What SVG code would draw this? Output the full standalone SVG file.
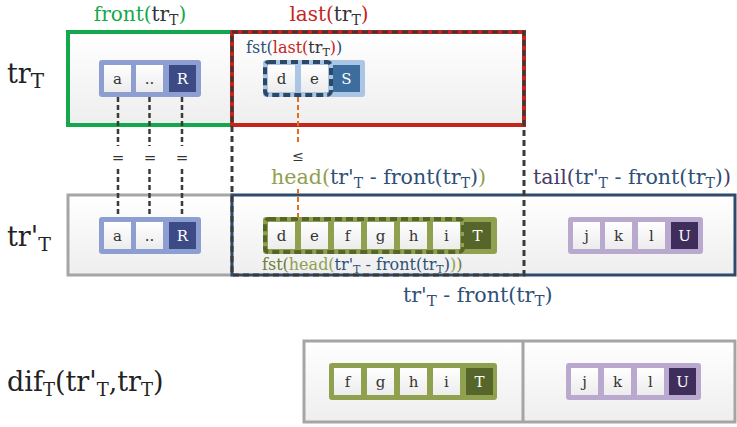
<svg xmlns="http://www.w3.org/2000/svg" width="737" height="427" viewBox="0 0 737 427" font-family="'DejaVu Serif', serif">
<defs>
<linearGradient id="boxg" x1="0" y1="0" x2="0" y2="1"><stop offset="0" stop-color="#ffffff"/><stop offset="1" stop-color="#eeeeee"/></linearGradient>
<linearGradient id="cellg" x1="0" y1="0" x2="0" y2="1"><stop offset="0" stop-color="#ffffff"/><stop offset="1" stop-color="#ececec"/></linearGradient>
</defs>
<style>
text{font-family:"DejaVu Serif",serif;}
.box{fill:url(#boxg);}
.cell{fill:url(#cellg);}
.ct{font-size:15px;fill:#333;text-anchor:middle;}
.cw{font-size:15px;fill:#fff;text-anchor:middle;}
.side{font-size:27px;fill:#222;}
.top{font-size:20px;text-anchor:middle;}
.mid{font-size:20.6px;}
.sm{font-size:16px;}
.dk{fill:#333;}
.bl{fill:#2e5078;}
.gr{fill:#12a84b;}
.rd{fill:#c4261d;}
.ol{fill:#8fa04e;}
.od{fill:#6c7d38;}
.pu{fill:#4a3a6a;}
.dash{fill:none;stroke:#3a3a3a;stroke-width:3;stroke-dasharray:6 4;}
.vd{stroke:#3a3a3a;stroke-width:2.5;stroke-dasharray:5 3;}
.od-line{stroke:#e0701e;stroke-width:2;stroke-dasharray:5 3;}
</style>

<!-- row labels -->
<text class="side" x="7" y="83" font-size="29">tr<tspan font-size="20" dy="5">T</tspan></text>
<text class="side" x="7" y="246">tr'<tspan font-size="19" dy="5">T</tspan></text>
<text class="side" x="7" y="391" font-size="25">dif<tspan font-size="18" dy="5">T</tspan><tspan dy="-5">(tr'</tspan><tspan font-size="18" dy="5">T</tspan><tspan dy="-5">,tr</tspan><tspan font-size="18" dy="5">T</tspan><tspan dy="-5">)</tspan></text>

<!-- top labels -->
<text class="top" x="140" y="21"><tspan class="gr">front(</tspan><tspan class="dk">tr</tspan><tspan class="dk" font-size="14" dy="4">T</tspan><tspan class="gr" dy="-4">)</tspan></text>
<text class="top" x="329" y="21"><tspan class="rd">last(</tspan><tspan class="dk">tr</tspan><tspan class="dk" font-size="14" dy="4">T</tspan><tspan class="rd" dy="-4">)</tspan></text>

<!-- row 1 -->
<g id="front-box">
<rect class="box" x="68" y="32" width="164" height="93" stroke="#12a84b" stroke-width="4"/>
</g>
<g id="last-box">
<rect class="box" x="232" y="32" width="292" height="93" stroke="#c4261d" stroke-width="4"/>
<text class="sm" x="246" y="53"><tspan class="bl">fst(</tspan><tspan class="rd">last(</tspan><tspan class="dk">tr</tspan><tspan class="dk" font-size="11" dy="3">T</tspan><tspan class="rd" dy="-3">)</tspan><tspan class="bl">)</tspan></text>
</g>

<!-- row 2 -->
<g id="row2-front-box">
<rect class="box" x="68" y="195" width="164" height="80" stroke="#a5a5a5" stroke-width="3"/>
</g>
<g id="row2-rest-box">
<rect class="box" x="232" y="195" width="503" height="80" stroke="#2d4b6d" stroke-width="3"/>
</g>

<!-- bottom -->
<g id="dif-box">
<rect class="box" x="304" y="341" width="431" height="81" stroke="#a5a5a5" stroke-width="3"/>
<line x1="523" y1="341" x2="523" y2="422" stroke="#a5a5a5" stroke-width="3"/>
</g>

<!-- dashed overlay column -->
<g id="overlap-column">
<rect class="dash" x="232" y="32" width="292" height="243"/>
</g>

<!-- row1 a..R -->
<g id="r1-aR">
<rect x="99" y="60" width="102" height="37" rx="3" fill="#8d9fd0"/>
<rect class="cell" x="104" y="65" width="27" height="27"/><text class="ct" x="117.5" y="84">a</text>
<rect class="cell" x="136" y="65" width="27" height="27"/><text class="ct" x="149.5" y="84">..</text>
<rect x="169" y="65" width="27" height="27" fill="#3c4a86"/><text class="cw" x="182.5" y="84">R</text>
</g>

<!-- row1 d e S -->
<g id="r1-deS">
<rect x="263" y="60" width="102" height="37" rx="3" fill="#aac6e4"/>
<rect class="cell" x="268" y="65" width="27" height="27"/><text class="ct" x="281.5" y="84">d</text>
<rect class="cell" x="301" y="65" width="27" height="27"/><text class="ct" x="314.5" y="84">e</text>
<rect x="333" y="65" width="27" height="27" fill="#3d6d9f"/><text class="cw" x="346.5" y="84">S</text>
<rect x="265" y="62" width="66" height="33" rx="4" fill="none" stroke="#2b4867" stroke-width="4" stroke-dasharray="7 4"/>
</g>

<!-- row2 a..R -->
<g id="r2-aR">
<rect x="99" y="217" width="102" height="37" rx="3" fill="#8d9fd0"/>
<rect class="cell" x="104" y="222" width="27" height="27"/><text class="ct" x="117.5" y="241">a</text>
<rect class="cell" x="136" y="222" width="27" height="27"/><text class="ct" x="149.5" y="241">..</text>
<rect x="169" y="222" width="27" height="27" fill="#3c4a86"/><text class="cw" x="182.5" y="241">R</text>
</g>

<!-- row2 green -->
<g id="r2-head">
<rect x="263" y="217" width="234" height="37" rx="3" fill="#8fa04e"/>
<rect class="cell" x="268" y="222" width="27" height="27"/><text class="ct" x="281.5" y="241">d</text>
<rect class="cell" x="301" y="222" width="27" height="27"/><text class="ct" x="314.5" y="241">e</text>
<rect class="cell" x="334" y="222" width="27" height="27"/><text class="ct" x="347.5" y="241">f</text>
<rect class="cell" x="367" y="222" width="27" height="27"/><text class="ct" x="380.5" y="241">g</text>
<rect class="cell" x="400" y="222" width="27" height="27"/><text class="ct" x="413.5" y="241">h</text>
<rect class="cell" x="433" y="222" width="27" height="27"/><text class="ct" x="446.5" y="241">i</text>
<rect x="464" y="222" width="27" height="27" fill="#56662a"/><text class="cw" x="477.5" y="241">T</text>
<rect x="265" y="219" width="198" height="33" rx="4" fill="none" stroke="#56662a" stroke-width="4" stroke-dasharray="7 4"/>
<text class="sm" x="262" y="270" font-size="16.5"><tspan class="od">fst(</tspan><tspan class="ol">head(</tspan><tspan class="bl">tr'</tspan><tspan class="bl" font-size="11" dy="3">T</tspan><tspan class="bl" dy="-3"> - front(tr</tspan><tspan class="bl" font-size="11" dy="3">T</tspan><tspan class="bl" dy="-3">)</tspan><tspan class="ol">)</tspan><tspan class="od">)</tspan></text>
</g>

<!-- row2 purple -->
<g id="r2-tail">
<rect x="568" y="217" width="135" height="37" rx="3" fill="#b9a9cf"/>
<rect class="cell" x="573" y="222" width="27" height="27"/><text class="ct" x="586.5" y="241">j</text>
<rect class="cell" x="605" y="222" width="27" height="27"/><text class="ct" x="618.5" y="241">k</text>
<rect class="cell" x="638" y="222" width="27" height="27"/><text class="ct" x="651.5" y="241">l</text>
<rect x="671" y="222" width="27" height="27" fill="#3f2d5c"/><text class="cw" x="684.5" y="241">U</text>
</g>

<!-- bottom green -->
<g id="dif-head">
<rect x="329" y="363" width="168" height="37" rx="3" fill="#8fa04e"/>
<rect class="cell" x="334" y="368" width="27" height="27"/><text class="ct" x="347.5" y="387">f</text>
<rect class="cell" x="367" y="368" width="27" height="27"/><text class="ct" x="380.5" y="387">g</text>
<rect class="cell" x="400" y="368" width="27" height="27"/><text class="ct" x="413.5" y="387">h</text>
<rect class="cell" x="433" y="368" width="27" height="27"/><text class="ct" x="446.5" y="387">i</text>
<rect x="466" y="368" width="27" height="27" fill="#56662a"/><text class="cw" x="479.5" y="387">T</text>
</g>

<!-- bottom purple -->
<g id="dif-tail">
<rect x="566" y="363" width="135" height="37" rx="3" fill="#b9a9cf"/>
<rect class="cell" x="571" y="368" width="27" height="27"/><text class="ct" x="584.5" y="387">j</text>
<rect class="cell" x="604" y="368" width="27" height="27"/><text class="ct" x="617.5" y="387">k</text>
<rect class="cell" x="637" y="368" width="27" height="27"/><text class="ct" x="650.5" y="387">l</text>
<rect x="669" y="368" width="27" height="27" fill="#3f2d5c"/><text class="cw" x="682.5" y="387">U</text>
</g>

<!-- connectors -->
<g id="connectors">
<line class="vd" x1="118" y1="97" x2="118" y2="146"/>
<line class="vd" x1="118" y1="169" x2="118" y2="217"/>
<line class="vd" x1="149.5" y1="97" x2="149.5" y2="146"/>
<line class="vd" x1="149.5" y1="169" x2="149.5" y2="217"/>
<line class="vd" x1="182" y1="97" x2="182" y2="146"/>
<line class="vd" x1="182" y1="169" x2="182" y2="217"/>
<line class="od-line" x1="298" y1="97" x2="298" y2="143"/>
<line class="od-line" x1="298" y1="189" x2="298" y2="219"/>
</g>

<!-- relation labels -->
<g id="relations" fill="#333">
<text x="118" y="163" text-anchor="middle" font-size="15">=</text>
<text x="150" y="163" text-anchor="middle" font-size="15">=</text>
<text x="182" y="163" text-anchor="middle" font-size="15">=</text>
<text x="298" y="161" text-anchor="middle" font-size="14">≤</text>
</g>

<text class="mid" x="271" y="184"><tspan class="ol">head(</tspan><tspan class="bl">tr'</tspan><tspan class="bl" font-size="14" dy="4">T</tspan><tspan class="bl" dy="-4"> - front(tr</tspan><tspan class="bl" font-size="14" dy="4">T</tspan><tspan class="bl" dy="-4">)</tspan><tspan class="ol">)</tspan></text>
<text class="mid" x="533" y="184"><tspan class="pu">tail(</tspan><tspan class="bl">tr'</tspan><tspan class="bl" font-size="14" dy="4">T</tspan><tspan class="bl" dy="-4"> - front(tr</tspan><tspan class="bl" font-size="14" dy="4">T</tspan><tspan class="bl" dy="-4">)</tspan><tspan class="pu">)</tspan></text>
<text class="mid" x="403" y="302" font-size="21.5"><tspan class="bl">tr'</tspan><tspan class="bl" font-size="15" dy="4">T</tspan><tspan class="bl" dy="-4"> - front(tr</tspan><tspan class="bl" font-size="15" dy="4">T</tspan><tspan class="bl" dy="-4">)</tspan></text>
</svg>
